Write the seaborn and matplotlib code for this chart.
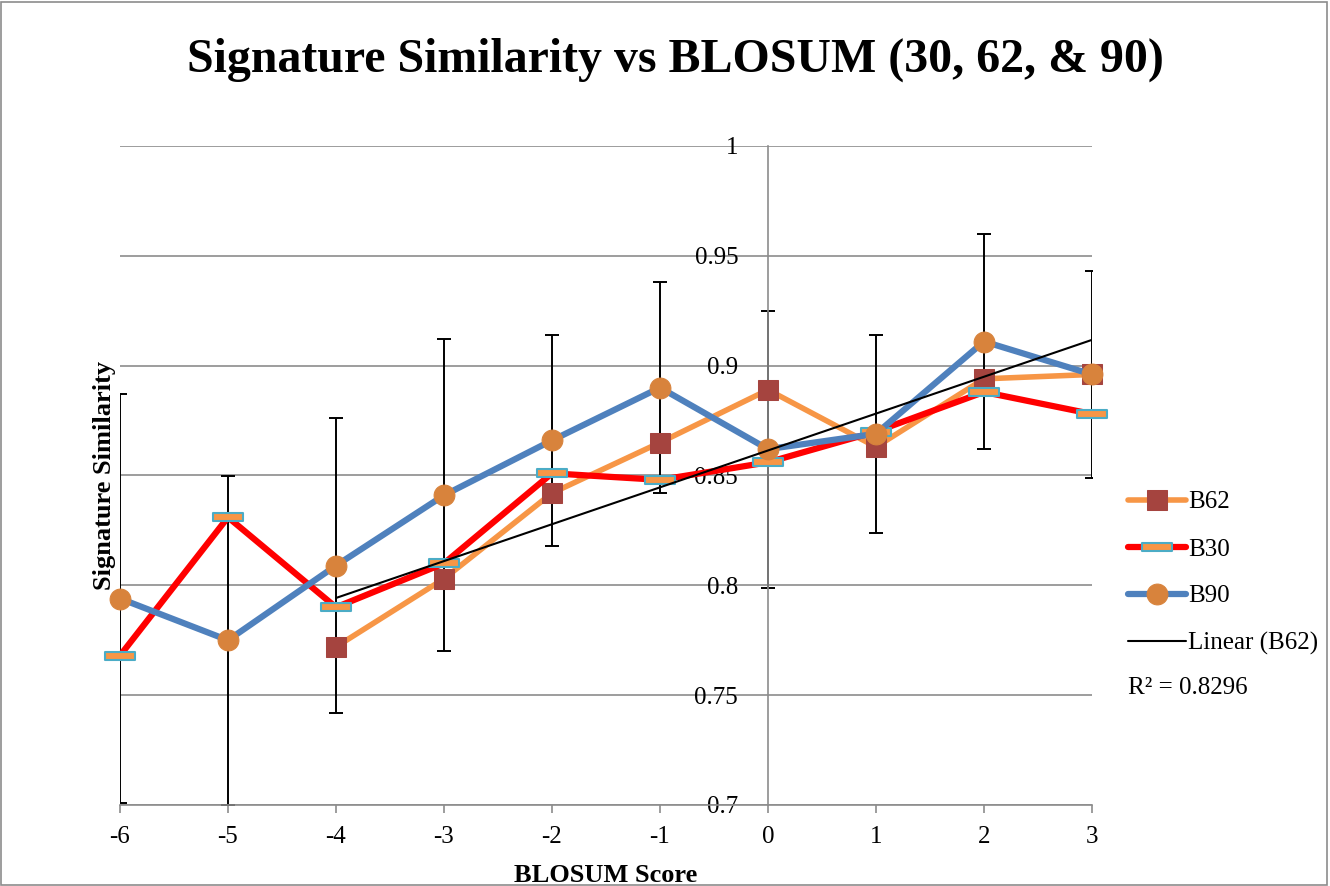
import numpy as np
import pandas as pd
import seaborn as sns
import matplotlib.pyplot as plt
from matplotlib.path import Path
from matplotlib.patches import Rectangle
from matplotlib.ticker import FuncFormatter, MultipleLocator

# values
blosum = [-6, -5, -4, -3, -2, -1, 0, 1, 2, 3]
b62 = [np.nan, np.nan, 0.772, 0.803, 0.842, 0.865, 0.889, 0.863, 0.894, 0.896]
b30 = [0.768, 0.831, 0.790, 0.810, 0.851, 0.848, 0.856, 0.870, 0.888, 0.878]
b90 = [0.794, 0.775, 0.809, 0.841, 0.866, 0.890, 0.862, 0.869, 0.911, 0.896]
b90_err = [0.093, 0.075, 0.067, 0.071, 0.048, 0.048, 0.063, 0.045, 0.049, 0.047]
r2_text = "R\u00b2 = 0.8296"

df = pd.DataFrame({"score": blosum, "B62": b62, "B30": b30, "B90": b90})

sns.set_style("white")
plt.rcParams["font.family"] = ["Liberation Serif", "DejaVu Serif"]
plt.rcParams["axes.unicode_minus"] = False
plt.rcParams["text.color"] = "black"
plt.rcParams["axes.labelcolor"] = "black"
plt.rcParams["xtick.labelcolor"] = "black"
plt.rcParams["ytick.labelcolor"] = "black"

fig = plt.figure(figsize=(13.3, 8.86), dpi=100)
ax = fig.add_axes([120 / 1330, 1 - 805 / 886, 972 / 1330, 659 / 886])

# flat dash marker used by Excel for B30
dash = Path([(-1, -0.23), (1, -0.23), (1, 0.23), (-1, 0.23), (-1, -0.23)],
            [Path.MOVETO, Path.LINETO, Path.LINETO, Path.LINETO, Path.CLOSEPOLY])

# error bars on B90
ax.errorbar(df["score"], df["B90"], yerr=b90_err, fmt="none", ecolor="black",
            elinewidth=1.4, capsize=5, capthick=1.4, zorder=2)

sns.lineplot(data=df, x="score", y="B62", ax=ax, color="#F79646", lw=4,
             marker="s", markersize=14, markerfacecolor="#A5443F",
             markeredgecolor="#A5443F", label="B62", zorder=3, clip_on=False)
sns.lineplot(data=df, x="score", y="B30", ax=ax, color="#FF0000", lw=4.5,
             marker=dash, markersize=22, markerfacecolor="#F79646",
             markeredgecolor="#4BACC6", markeredgewidth=1.5, label="B30",
             zorder=4, clip_on=False)
sns.lineplot(data=df, x="score", y="B90", ax=ax, color="#4F81BD", lw=4.5,
             marker="o", markersize=15, markerfacecolor="#D8833C",
             markeredgecolor="#D8833C", label="B90", zorder=5, clip_on=False)

# linear trend line of B62
trend = df.dropna(subset=["B62"])
sns.regplot(data=trend, x="score", y="B62", ax=ax, scatter=False, ci=None,
            truncate=True, color="black", line_kws={"lw": 1.5, "zorder": 6},
            label="Linear (B62)")

ax.set_xlim(-6, 3)
ax.set_ylim(0.7, 1.0)
ax.xaxis.set_major_locator(MultipleLocator(1))
ax.yaxis.set_major_locator(MultipleLocator(0.05))
ax.yaxis.set_major_formatter(FuncFormatter(lambda v, p: f"{v:g}"))

ax.grid(axis="y", color="#8C8C8C", lw=1.2)
ax.grid(axis="x", visible=False)
for s in ["top", "right"]:
    ax.spines[s].set_visible(False)
ax.spines["left"].set_position(("data", 0))
ax.spines["left"].set_color("#8C8C8C")
ax.spines["left"].set_linewidth(1.2)
ax.spines["bottom"].set_color("#8C8C8C")
ax.spines["bottom"].set_linewidth(1.2)
ax.tick_params(axis="x", bottom=True, length=6, width=1.2, color="#8C8C8C",
               labelsize=18, pad=9)
ax.tick_params(axis="y", left=False, labelsize=18, pad=18)

ax.set_xlabel("BLOSUM Score", fontsize=19, fontweight="bold", labelpad=12)
ax.set_ylabel("Signature Similarity", fontsize=19, fontweight="bold")
ax.yaxis.set_label_coords(-0.004, 0.5)

fig.text(675 / 1330, 1 - 60 / 886, "Signature Similarity vs BLOSUM (30, 62, & 90)",
         ha="center", va="center", fontsize=34.5, fontweight="bold")

handles, labels = ax.get_legend_handles_labels()
order = [labels.index(n) for n in ["B62", "B30", "B90", "Linear (B62)"]]
ax.legend([handles[i] for i in order], [labels[i] for i in order],
          loc="upper left", bbox_to_anchor=(1128 / 1330, 1 - 491 / 886),
          bbox_transform=fig.transFigure, frameon=False, fontsize=18,
          handlelength=2.3, handletextpad=0.1, labelspacing=0.98,
          borderpad=0, borderaxespad=0)
fig.text(1128 / 1330, 1 - 688 / 886, r2_text, ha="left", va="center", fontsize=18)

fig.patches.append(Rectangle((0.001, 0.001), 0.997, 0.997, transform=fig.transFigure,
                             fill=False, edgecolor="#8C8C8C", lw=1.2))

fig.savefig("out.png", dpi=100)
